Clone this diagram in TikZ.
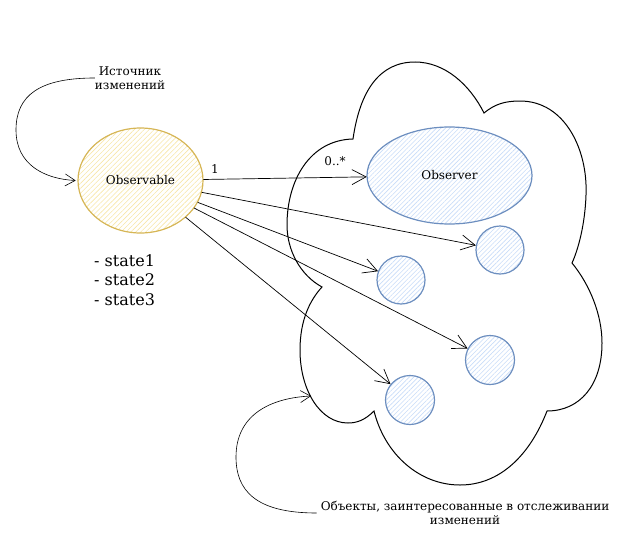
\documentclass[tikz,border=0pt]{standalone}
\usepackage{fontspec}
\setmainfont{DejaVu Serif}
\usetikzlibrary{shapes.geometric,patterns.meta,arrows.meta}
\definecolor{obsfill}{HTML}{F7E6A8}
\definecolor{obsline}{HTML}{D6B656}
\definecolor{bluefill}{HTML}{C8DCF8}
\definecolor{blueline}{HTML}{6C8EBF}
\begin{document}
\begin{tikzpicture}[x=1pt,y=-1pt,
  yellowell/.style={ellipse, draw=obsline, line width=1.2pt,
    pattern={Lines[angle=45,distance=3.5pt,line width=0.6pt]}, pattern color=obsfill, inner sep=0},
  blueshape/.style={draw=blueline, line width=1.2pt,
    pattern={Lines[angle=45,distance=3.2pt,line width=0.6pt]}, pattern color=bluefill, inner sep=0},
  link/.style={draw, line width=0.7pt, -{Straight Barb[length=14pt,width=15pt,line width=0.7pt]}},
  note/.style={draw, line width=0.6pt, -{Straight Barb[length=10pt,width=12pt,line width=0.6pt]}},
  txt/.style={font=\fontsize{12}{14.5}\selectfont, align=center, inner sep=0}]
\useasboundingbox (0,0) rectangle (631,551);
% cloud
\draw[line width=1pt]
  (353,139) .. controls (360,90) and (380,62) .. (415,62)
  .. controls (445,62) and (470,85) .. (484,113)
  .. controls (495,104) and (505,101) .. (520,101)
  .. controls (565,101) and (588,150) .. (586,195)
  .. controls (585,225) and (578,250) .. (572,263)
  .. controls (590,285) and (602,315) .. (602,343)
  .. controls (602,385) and (580,411) .. (547,411)
  .. controls (530,455) and (500,485) .. (460,485)
  .. controls (420,485) and (385,455) .. (374,411)
  .. controls (365,420) and (357,423) .. (348,423)
  .. controls (320,423) and (300,390) .. (300,350)
  .. controls (300,320) and (310,300) .. (322,287)
  .. controls (300,275) and (287,250) .. (287,225)
  .. controls (287,180) and (310,140) .. (353,139) -- cycle;
% nodes
\node[yellowell, txt, minimum width=125pt, minimum height=105pt] (obs) at (140.5,180.5) {Observable};
\node[blueshape, ellipse, txt, minimum width=165pt, minimum height=97pt] (obsr) at (449.5,175.5) {Observer};
\node[blueshape, circle, minimum size=48pt] (c1) at (500,250) {};
\node[blueshape, circle, minimum size=48pt] (c2) at (401,280) {};
\node[blueshape, circle, minimum size=49pt] (c3) at (490,360) {};
\node[blueshape, circle, minimum size=49pt] (c4) at (410,400) {};
% texts
\node[txt] (srclbl) at (130,78) {Источник\\изменений};
\node[txt] (intlbl) at (465,513) {Объекты, заинтересованные в отслеживании\\изменений};
\node[txt, align=left, anchor=west, font=\fontsize{16}{19.5}\selectfont] (states) at (94,280) {- state1\\- state2\\- state3};
\node[txt] (one) at (215,169) {1};
\node[txt] (many) at (335,161) {0..*};
% connectors
\draw[link] (obs) -- (obsr);
\draw[link] (obs) -- (c1);
\draw[link] (obs) -- (c2);
\draw[link] (obs) -- (c3);
\draw[link] (obs) -- (c4);
\coordinate (cloudhit) at (311,396);
\draw[note] (srclbl.west) .. controls (40,78) and (16,95) .. (16,130)
  .. controls (16,165) and (45,179) .. ([xshift=-2pt]obs.west);
\draw[note] ([xshift=-4pt]intlbl.west) .. controls (255,513) and (236,490) .. (236,457)
  .. controls (236,415) and (270,398) .. (cloudhit);
\end{tikzpicture}
\end{document}
